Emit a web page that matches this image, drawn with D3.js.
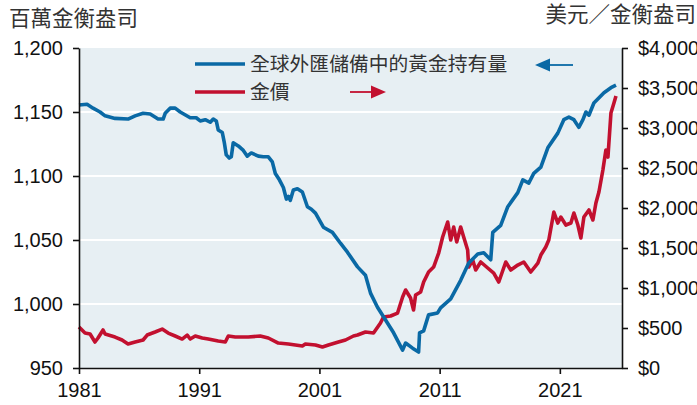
<!DOCTYPE html>
<html>
<head>
<meta charset="utf-8">
<script src="https://cdn.jsdelivr.net/npm/d3@7"></script>
<style>
  body { margin: 0; background: #fff; }
  svg { display: block; }
  .tick text { font-family: "Liberation Sans", Arial, sans-serif; font-size: 20px; fill: #111; }
  .cjk { font-family: "Noto Sans CJK TC", "Noto Sans CJK SC", sans-serif; fill: #333; }
</style>
</head>
<body>
<svg id="chart" width="697" height="405"></svg>
<script>
// global gold holdings in FX reserves (million troy oz), left axis
const holdYears = [1981.0, 1981.67, 1982.17, 1982.75, 1983.17, 1984.0, 1985.08, 1985.67, 1986.33, 1986.92,
  1987.58, 1988.0, 1988.17, 1988.58, 1989.0, 1989.42, 1990.25, 1990.75, 1991.08, 1991.5,
  1991.92, 1992.17, 1992.42, 1992.58, 1992.92, 1993.08, 1993.25, 1993.5, 1993.67, 1993.83,
  1994.25, 1994.67, 1995.0, 1995.33, 1995.92, 1996.33, 1996.75, 1997.08, 1997.33, 1997.67,
  1998.0, 1998.25, 1998.42, 1998.58, 1998.83, 1999.17, 1999.58, 2000.0, 2000.33, 2000.67,
  2001.33, 2002.08, 2002.75, 2003.33, 2004.17, 2004.83, 2005.25, 2005.83, 2006.33, 2007.17,
  2007.92, 2008.17, 2008.75, 2009.25, 2009.33, 2009.67, 2010.08, 2010.83, 2011.08, 2011.92,
  2012.75, 2013.42, 2014.17, 2014.67, 2015.25, 2015.42, 2016.08, 2016.67, 2017.5, 2017.92,
  2018.42, 2018.83, 2019.42, 2020.0, 2020.83, 2021.33, 2021.75, 2022.17, 2022.58, 2022.92,
  2023.17, 2023.42, 2023.83, 2024.67, 2025.25, 2025.67];
const holdValues = [1155.5, 1156, 1153, 1150, 1147, 1145, 1144.5, 1147, 1149, 1148.5,
  1144.5, 1144.5, 1149, 1153, 1153, 1150, 1145.5, 1145.5, 1143, 1144,
  1142, 1144.5, 1143, 1136, 1134, 1126.5, 1116.5, 1114, 1115, 1126,
  1123.5, 1120, 1115.5, 1118, 1115.5, 1115, 1115, 1111, 1102, 1097,
  1091, 1082, 1084, 1081, 1089, 1090, 1087.5, 1076, 1074, 1071,
  1060, 1056, 1047.5, 1040.5, 1029, 1022.5, 1008.5, 997.5, 990, 977.5,
  964, 969.5, 965.5, 962.5, 977.5, 979, 991.5, 993, 997, 1004,
  1018.5, 1032, 1039, 1040, 1034.5, 1056, 1061.5, 1076, 1087, 1097,
  1094.5, 1102, 1107, 1122, 1133.5, 1144, 1146, 1144, 1138, 1144,
  1150, 1147.5, 1157, 1165, 1169, 1171];

// gold price (USD per troy oz), right axis
const priceYears = [1981.0, 1981.5, 1981.92, 1982.33, 1982.58, 1983.0, 1983.17, 1984.0, 1984.58, 1985.08,
  1985.67, 1986.33, 1986.67, 1987.33, 1987.92, 1988.42, 1989.0, 1989.58, 1990.0, 1990.25,
  1990.67, 1991.25, 1991.75, 1992.58, 1993.17, 1993.42, 1994.0, 1995.08, 1996.08, 1996.75,
  1997.58, 1998.42, 1999.58, 1999.83, 2000.67, 2001.25, 2001.75, 2002.58, 2003.17, 2003.83,
  2004.17, 2004.83, 2005.5, 2006.08, 2006.33, 2006.92, 2007.5, 2007.92, 2008.17, 2008.58,
  2008.83, 2009.0, 2009.42, 2009.67, 2010.08, 2010.5, 2010.92, 2011.25, 2011.67, 2011.92,
  2012.17, 2012.42, 2012.75, 2013.0, 2013.33, 2013.42, 2013.75, 2014.0, 2014.42, 2015.0,
  2015.5, 2015.92, 2016.5, 2016.92, 2017.5, 2018.0, 2018.58, 2019.17, 2019.42, 2019.83,
  2020.08, 2020.5, 2020.83, 2021.08, 2021.5, 2021.92, 2022.17, 2022.5, 2022.75, 2023.0,
  2023.42, 2023.75, 2024.0, 2024.25, 2024.58, 2024.83, 2025.0, 2025.25, 2025.5, 2025.67];
const priceValues = [512, 437, 425, 325, 375, 475, 425, 387, 350, 300,
  325, 350, 412, 450, 487, 437, 400, 362, 412, 362,
  400, 375, 362, 337, 325, 400, 387, 387, 400, 375,
  312, 300, 275, 300, 287, 262, 287, 325, 350, 400,
  412, 450, 437, 562, 637, 650, 687, 887, 975, 875,
  725, 912, 950, 1075, 1200, 1262, 1437, 1637, 1825, 1600,
  1762, 1575, 1762, 1637, 1475, 1262, 1350, 1225, 1325, 1250,
  1187, 1075, 1325, 1225, 1287, 1325, 1200, 1312, 1412, 1512,
  1600, 1950, 1812, 1887, 1787, 1812, 1937, 1787, 1625, 1887,
  1975, 1850, 2062, 2200, 2475, 2725, 2637, 3187, 3312, 3400];

const xTicks = [1981, 1991, 2001, 2011, 2021];
const leftTicks = [950, 1000, 1050, 1100, 1150, 1200];
const rightTicks = [0, 500, 1000, 1500, 2000, 2500, 3000, 3500, 4000];
const gridValues = [1000, 1050, 1100, 1150];

const leftTitle = '百萬金衡盎司';
const rightTitle = '美元／金衡盎司';
const holdLabel = '全球外匯儲備中的黃金持有量';
const priceLabel = '金價';

const blue = '#0a69a5';
const red = '#c2102f';

const margin = { left: 79, right: 75, top: 48, bottom: 37 };
const W = 697, H = 405;

const svg = d3.select('#chart');

const x = d3.scaleLinear().domain([1981, 2026.17]).range([margin.left, W - margin.right]);
const yL = d3.scaleLinear().domain([950, 1200]).range([H - margin.bottom, margin.top]);
const yR = d3.scaleLinear().domain([0, 4000]).range([H - margin.bottom, margin.top]);

// plot background
svg.append('rect')
  .attr('x', x.range()[0])
  .attr('y', yL(1200))
  .attr('width', x.range()[1] - x.range()[0])
  .attr('height', yL(950) - yL(1200))
  .attr('fill', '#e7eff3');

// gridlines
svg.append('g')
  .selectAll('line')
  .data(gridValues)
  .enter()
  .append('line')
  .attr('x1', x.range()[0])
  .attr('x2', x.range()[1])
  .attr('y1', d => yL(d))
  .attr('y2', d => yL(d))
  .attr('stroke', '#fff')
  .attr('stroke-width', 2);

// lines
const holdData = holdYears.map((d, i) => [d, holdValues[i]]);
const priceData = priceYears.map((d, i) => [d, priceValues[i]]);

svg.append('path')
  .datum(priceData)
  .attr('fill', 'none')
  .attr('stroke', red)
  .attr('stroke-width', 3.6)
  .attr('stroke-linejoin', 'round')
  .attr('d', d3.line().x(d => x(d[0])).y(d => yR(d[1])));

svg.append('path')
  .datum(holdData)
  .attr('fill', 'none')
  .attr('stroke', blue)
  .attr('stroke-width', 3.6)
  .attr('stroke-linejoin', 'round')
  .attr('d', d3.line().x(d => x(d[0])).y(d => yL(d[1])));

// axes
const styleAxis = g => {
  g.select('.domain').attr('stroke', '#111').attr('stroke-width', 1.6);
  g.selectAll('.tick line').attr('stroke', '#111').attr('stroke-width', 1.6);
  g.selectAll('text').attr('font-family', null).attr('font-size', null);
};

svg.append('g')
  .attr('transform', `translate(${margin.left},0)`)
  .call(d3.axisLeft(yL).tickValues(leftTicks).tickFormat(d3.format(',')).tickSize(6).tickSizeOuter(0).tickPadding(10))
  .call(styleAxis);

svg.append('g')
  .attr('transform', `translate(${W - margin.right},0)`)
  .call(d3.axisRight(yR).tickValues(rightTicks).tickFormat(d => '$' + d3.format(',')(d)).tickSize(6).tickSizeOuter(0).tickPadding(10))
  .call(styleAxis);

svg.append('g')
  .attr('transform', `translate(0,${H - margin.bottom})`)
  .call(d3.axisBottom(x).tickValues(xTicks).tickFormat(d3.format('d')).tickSize(6).tickSizeOuter(0).tickPadding(9))
  .call(styleAxis);

// axis titles
svg.append('text')
  .attr('class', 'cjk')
  .attr('x', 9)
  .attr('y', 26)
  .attr('font-size', 21.5)
  .text(leftTitle);

svg.append('text')
  .attr('class', 'cjk')
  .attr('x', 696)
  .attr('y', 22)
  .attr('text-anchor', 'end')
  .attr('font-size', 21.5)
  .text(rightTitle);

// legend
const legend = svg.append('g');
const legendItems = [
  { label: holdLabel, color: blue, y: 64 },
  { label: priceLabel, color: red, y: 92 }
];
legendItems.forEach(item => {
  legend.append('line')
    .attr('x1', 195).attr('x2', 245)
    .attr('y1', item.y).attr('y2', item.y)
    .attr('stroke', item.color)
    .attr('stroke-width', 3.6);
  legend.append('text')
    .attr('class', 'cjk')
    .attr('x', 250)
    .attr('y', item.y)
    .attr('dy', '0.36em')
    .attr('font-size', 19.8)
    .text(item.label);
});

// arrows pointing at each series' axis
const drawArrow = (x0, x1, yPos, color) => {
  const dir = Math.sign(x1 - x0);
  const headLen = 15;
  legend.append('line')
    .attr('x1', x0).attr('x2', x1 - dir * headLen)
    .attr('y1', yPos).attr('y2', yPos)
    .attr('stroke', color)
    .attr('stroke-width', 1.8);
  legend.append('path')
    .attr('d', `M${x1},${yPos} L${x1 - dir * headLen},${yPos - 6.5} L${x1 - dir * headLen},${yPos + 6.5} Z`)
    .attr('fill', color);
};
drawArrow(573, 535, 65, blue);
drawArrow(350, 386, 92, red);
</script>
</body>
</html>
